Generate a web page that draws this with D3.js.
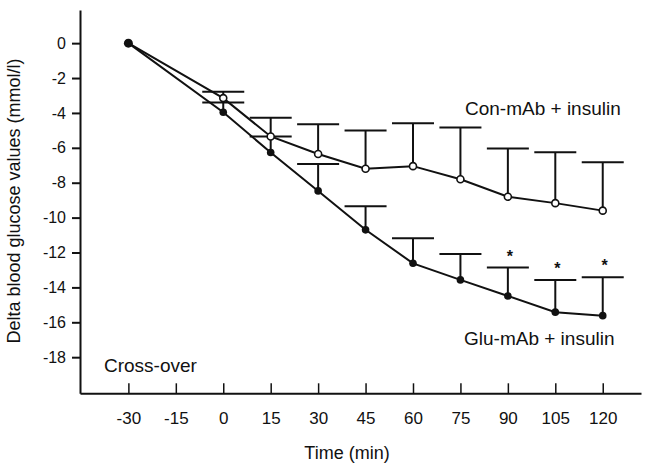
<!DOCTYPE html>
<html>
<head>
<meta charset="utf-8">
<script src="https://cdn.jsdelivr.net/npm/d3@7"></script>
<style>
  body { margin: 0; background: #fff; }
  text { font-family: "Liberation Sans", Arial, Helvetica, sans-serif; fill: #111; }
</style>
</head>
<body>
<svg id="chart" width="646" height="464"></svg>
<script>
const times = [-30, 0, 15, 30, 45, 60, 75, 90, 105, 120];
const conMean = [0, -3.15, -5.35, -6.35, -7.2, -7.05, -7.8, -8.8, -9.17, -9.6];
const conSem = [0, 0.37, 1.08, 1.7, 2.2, 2.46, 2.96, 2.76, 2.92, 2.78];
const gluMean = [0, -3.96, -6.27, -8.47, -10.7, -12.62, -13.57, -14.49, -15.42, -15.62];
const gluSem = [0, 0.56, 0.92, 1.55, 1.35, 1.44, 1.49, 1.63, 1.85, 2.2];
const significant = [90, 105, 120];
const xTicks = [-30, -15, 0, 15, 30, 45, 60, 75, 90, 105, 120];
const yTicks = [0, -2, -4, -6, -8, -10, -12, -14, -16, -18];

const svg = d3.select("#chart");
const x = d3.scaleLinear().domain([-45.3, 132.1]).range([80, 641]);
const y = d3.scaleLinear().domain([1.9, -20.07]).range([10, 393.3]);

const con = times.map((t, i) => ({ t, v: conMean[i], sem: conSem[i] }));
const glu = times.map((t, i) => ({ t, v: gluMean[i], sem: gluSem[i] }));

// axes
const yAxis = svg.append("g").attr("transform", "translate(80,0)")
  .call(d3.axisLeft(y).tickValues(yTicks).tickSizeInner(8).tickSizeOuter(0).tickPadding(6).tickFormat(d => String(d)));
yAxis.select(".domain").attr("stroke", "#111").attr("stroke-width", 2);
yAxis.selectAll(".tick line").attr("stroke", "#111").attr("stroke-width", 2);
yAxis.selectAll(".tick text").style("font-size", "16px").attr("fill", "#111");

const xAxis = svg.append("g").attr("transform", "translate(0,393.3)")
  .call(d3.axisBottom(x).tickValues(xTicks).tickSizeInner(-10).tickSizeOuter(0).tickFormat(d => String(d)));
xAxis.select(".domain").attr("stroke", "#111").attr("stroke-width", 2);
xAxis.selectAll(".tick line").attr("stroke", "#111").attr("stroke-width", 1.5);
xAxis.selectAll(".tick text").style("font-size", "17px").attr("fill", "#111").attr("y", 31).attr("dy", 0);

// axis titles
svg.append("text").attr("transform", "translate(20,201) rotate(-90)")
  .attr("text-anchor", "middle").style("font-size", "18px")
  .text("Delta blood glucose values (mmol/l)");
svg.append("text").attr("x", 347).attr("y", 459)
  .attr("text-anchor", "middle").style("font-size", "18px").text("Time (min)");

// error bars (upper SEM only)
function errorBars(data) {
  const g = svg.append("g").attr("stroke", "#111").attr("stroke-width", 2);
  const d = data.filter(p => p.sem > 0);
  g.selectAll(".stem").data(d).join("line")
    .attr("x1", p => x(p.t)).attr("x2", p => x(p.t))
    .attr("y1", p => y(p.v)).attr("y2", p => y(p.v + p.sem));
  g.selectAll(".cap").data(d).join("line")
    .attr("x1", p => x(p.t) - 21).attr("x2", p => x(p.t) + 21)
    .attr("y1", p => y(p.v + p.sem)).attr("y2", p => y(p.v + p.sem));
}
errorBars(con);
errorBars(glu);

const line = d3.line().x(p => x(p.t)).y(p => y(p.v));
svg.append("path").datum(con).attr("fill", "none").attr("stroke", "#111").attr("stroke-width", 2).attr("d", line);
svg.append("path").datum(glu).attr("fill", "none").attr("stroke", "#111").attr("stroke-width", 2).attr("d", line);

// markers
svg.selectAll(".glu").data(glu).join("circle")
  .attr("cx", p => x(p.t)).attr("cy", p => y(p.v)).attr("r", p => p.t === -30 ? 4.5 : 3.8)
  .attr("fill", "#111");
svg.selectAll(".con").data(con.filter(p => p.t !== -30)).join("circle")
  .attr("cx", p => x(p.t)).attr("cy", p => y(p.v)).attr("r", 3.5)
  .attr("fill", "#fff").attr("stroke", "#111").attr("stroke-width", 1.6);

// significance asterisks
svg.selectAll(".star").data(glu.filter(p => significant.includes(p.t))).join("text")
  .attr("x", p => x(p.t) + 2).attr("y", p => y(p.v + p.sem) - 6)
  .attr("text-anchor", "middle").style("font-size", "16px").style("font-weight", "bold")
  .text("*");

// labels
svg.append("text").attr("x", 465).attr("y", 115).style("font-size", "19px").text("Con-mAb + insulin");
svg.append("text").attr("x", 464).attr("y", 345).style("font-size", "19px").text("Glu-mAb + insulin");
svg.append("text").attr("x", 104).attr("y", 372).style("font-size", "19px").text("Cross-over");
</script>
</body>
</html>
